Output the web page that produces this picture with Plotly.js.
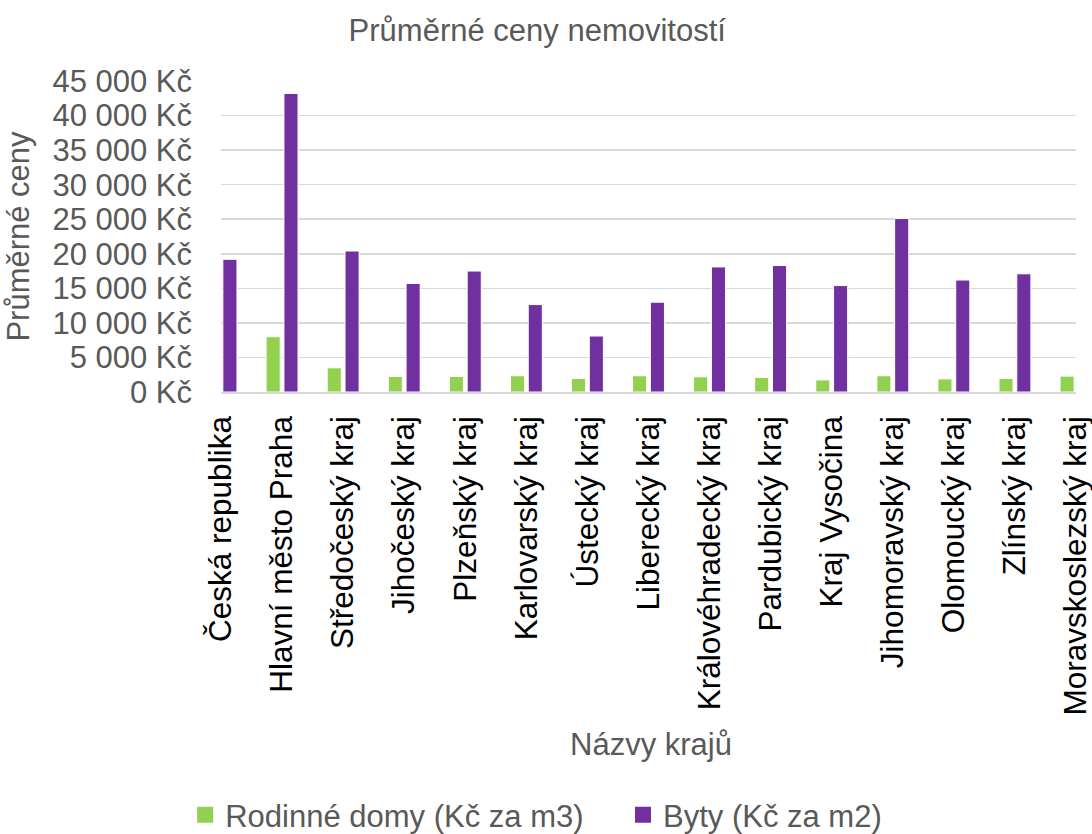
<!DOCTYPE html>
<html>
<head>
<meta charset="utf-8">
<script src="https://cdn.plot.ly/plotly-3.0.1.min.js"></script>
<style>html,body{margin:0;padding:0;background:#fff;}#chart{width:1092px;height:834px;}</style>
</head>
<body>
<div id="chart"></div>
<script>
const categories = ["Česká republika","Hlavní město Praha","Středočeský kraj","Jihočeský kraj","Plzeňský kraj","Karlovarský kraj","Ústecký kraj","Liberecký kraj","Královéhradecký kraj","Pardubický kraj","Kraj Vysočina","Jihomoravský kraj","Olomoucký kraj","Zlínský kraj","Moravskoslezský kraj"];
const rodinneDomy = [2300, 8000, 3500, 2250, 2250, 2350, 1950, 2350, 2200, 2100, 1750, 2350, 1900, 1950, 2300];
const byty = [19200, 43200, 20400, 15700, 17500, 12650, 8100, 13000, 18100, 18300, 15400, 25100, 16200, 17100, 13200];
const yTickVals = [0, 5000, 10000, 15000, 20000, 25000, 30000, 35000, 40000, 45000];
const yTickText = ["0 Kč","5 000 Kč","10 000 Kč","15 000 Kč","20 000 Kč","25 000 Kč","30 000 Kč","35 000 Kč","40 000 Kč","45 000 Kč"];
const seriesNames = ["Rodinné domy (Kč za m3)", "Byty (Kč za m2)"];

const FONT = '"Liberation Sans", Arial, sans-serif';
const GRAY = '#595959';
const GREEN = '#92D050';
const PURPLE = '#7030A0';
const PAD = '\u00a0\u00a0\u00a0\u00a0';

const traces = [
  {type:'bar', name:seriesNames[0], legendgroup:'rd', showlegend:false, x:categories, y:rodinneDomy,
   marker:{color:GREEN, line:{color:'#ffffff', width:1}}},
  {type:'bar', name:seriesNames[1], legendgroup:'by', showlegend:false, x:categories, y:byty,
   marker:{color:PURPLE, line:{color:'#ffffff', width:1}}},
  {type:'scatter', mode:'markers', name:seriesNames[0] + PAD, legendgroup:'rd', x:[null], y:[null],
   marker:{symbol:'square', size:16, color:GREEN}},
  {type:'scatter', mode:'markers', name:seriesNames[1], legendgroup:'by', x:[null], y:[null],
   marker:{symbol:'square', size:16, color:PURPLE}}
];

const layout = {
  width:1092, height:834,
  margin:{l:221, r:16, t:81, b:442, pad:0},
  paper_bgcolor:'#ffffff', plot_bgcolor:'#ffffff',
  font:{family:FONT, size:31, color:GRAY},
  title:{text:'Průměrné ceny nemovitostí', font:{family:FONT, size:31, color:GRAY},
         x:0.492, xanchor:'center', y:1-30/834, yanchor:'middle', xref:'container', yref:'container'},
  barmode:'group', bargap:0.416, bargroupgap:0.21,
  showlegend:true,
  legend:{orientation:'h', xref:'container', yref:'container', x:0.491, xanchor:'center', y:1-815/834, yanchor:'middle',
          font:{family:FONT, size:31, color:GRAY}, itemsizing:'trace', traceorder:'normal'},
  xaxis:{type:'category', range:[0,14], tickangle:-90, showgrid:false,
         showline:true, linecolor:'#d9d9d9', linewidth:1.5,
         ticks:'', ticklabelstandoff:10,
         tickfont:{family:FONT, size:31.5, color:'#000000'}, fixedrange:true},
  yaxis:{range:[0,45000], tickvals:yTickVals, ticktext:yTickText,
         showgrid:true, gridcolor:'#d9d9d9', gridwidth:1.5, zeroline:false, showline:false,
         ticks:'', ticklabelstandoff:28,
         tickfont:{family:FONT, size:31, color:GRAY},
         title:{text:'Průměrné ceny', font:{family:FONT, size:31, color:GRAY}, standoff:13}, fixedrange:true},
  annotations:[
    {text:'Názvy krajů', xref:'paper', yref:'paper', x:0.503, y:-(744-392)/(392-81), xanchor:'center', yanchor:'middle',
     showarrow:false, font:{family:FONT, size:31, color:GRAY}}
  ]
};

Plotly.newPlot('chart', traces, layout, {displayModeBar:false, staticPlot:true});
</script>
</body>
</html>
